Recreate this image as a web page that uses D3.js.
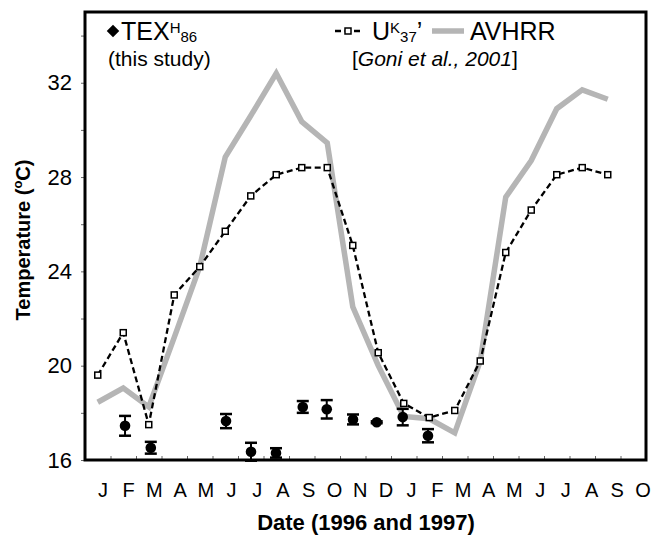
<!DOCTYPE html>
<html>
<head>
<meta charset="utf-8">
<script src="https://cdn.jsdelivr.net/npm/d3@7"></script>
<style>
  body { margin: 0; background: #fff; }
  svg { display: block; font-family: Arial, "Liberation Sans", sans-serif; }
</style>
</head>
<body>
<svg id="chart" width="653" height="535"></svg>
<script>
// month labels, Jan 1996 - Oct 1997
const monthLabels = ['J', 'F', 'M', 'A', 'M', 'J', 'J', 'A', 'S', 'O', 'N', 'D',
  'J', 'F', 'M', 'A', 'M', 'J', 'J', 'A', 'S', 'O'];

// U37K' monthly values (Jan 1996 - Sep 1997)
const uk37Temp = [19.6, 21.4, 17.5, 23.0, 24.2, 25.7, 27.2, 28.1, 28.4, 28.4, 25.1, 20.55,
  18.4, 17.8, 18.1, 20.2, 24.8, 26.6, 28.1, 28.4, 28.1];

// AVHRR monthly values
const avhrrTemp = [18.45, 19.05, 18.25, 21.2, 24.2, 28.85, 30.6, 32.4, 30.35, 29.45, 22.5, 20.0,
  17.85, 17.75, 17.15, 20.2, 27.15, 28.7, 30.9, 31.7, 31.3];

// TEX86H samples: position in months from Jan 1996, temperature, error
const texMonth = [1.57, 2.58, 5.53, 6.51, 7.49, 8.54, 9.48, 10.51, 11.44, 12.46, 13.45];
const texTemp = [17.45, 16.52, 17.65, 16.35, 16.3, 18.25, 18.15, 17.72, 17.6, 17.82, 17.03];
const texErr = [0.42, 0.25, 0.3, 0.38, 0.2, 0.25, 0.39, 0.21, 0.04, 0.35, 0.28];

const yTicks = [16, 18, 20, 22, 24, 26, 28, 30, 32, 34];

const svg = d3.select('#chart');
const plotLeft = 85, plotRight = 646, plotTop = 12, plotBottom = 460;

const x = d3.scaleLinear().domain([0, 22]).range([plotLeft, plotRight]);
const y = d3.scaleLinear().domain([16, 35]).range([plotBottom, plotTop]);
// month letters are spaced a bit wider than the ticks in the original
const labelX = d3.scaleLinear().domain([0, 21]).range([103, 643]);

// y axis ticks and labels
const yAxis = svg.append('g')
  .attr('transform', `translate(${plotLeft},0)`)
  .call(d3.axisLeft(y).tickValues(yTicks).tickSize(4).tickPadding(9)
    .tickFormat(d => d % 4 === 0 ? d : ''));
yAxis.select('.domain').remove();
yAxis.selectAll('line').attr('stroke', '#666');
yAxis.selectAll('text')
  .attr('font-size', 22)
  .attr('font-family', 'Arial, "Liberation Sans", sans-serif')
  .attr('fill', '#000');

// x axis: inner ticks at month boundaries
const xAxis = svg.append('g')
  .attr('transform', `translate(0,${plotBottom})`)
  .call(d3.axisBottom(x).tickValues(d3.range(1, 22)).tickSize(-4).tickFormat(''));
xAxis.select('.domain').remove();
xAxis.selectAll('line').attr('stroke', '#666');

svg.append('g')
  .selectAll('text')
  .data(monthLabels)
  .join('text')
  .attr('x', (d, i) => labelX(i))
  .attr('y', 497)
  .attr('text-anchor', 'middle')
  .attr('font-size', 20)
  .text(d => d);

// AVHRR grey line
const monthLine = d3.line()
  .x((d, i) => x(i + 0.5))
  .y(d => y(d));
svg.append('path')
  .datum(avhrrTemp)
  .attr('d', monthLine)
  .attr('fill', 'none')
  .attr('stroke', '#b5b5b5')
  .attr('stroke-width', 5.5)
  .attr('stroke-linejoin', 'miter');

// U37K' dashed line + squares
svg.append('path')
  .datum(uk37Temp)
  .attr('d', monthLine)
  .attr('fill', 'none')
  .attr('stroke', '#000')
  .attr('stroke-width', 2.3)
  .attr('stroke-dasharray', '6,3.5');

svg.append('g')
  .selectAll('rect')
  .data(uk37Temp)
  .join('rect')
  .attr('x', (d, i) => x(i + 0.5) - 3)
  .attr('y', d => y(d) - 3)
  .attr('width', 6)
  .attr('height', 6)
  .attr('fill', '#fff')
  .attr('stroke', '#000')
  .attr('stroke-width', 1.5);

// TEX86H points with error bars
const texData = texMonth.map((m, i) => ({ m, t: texTemp[i], e: texErr[i] }));
const texG = svg.append('g')
  .selectAll('g')
  .data(texData)
  .join('g');

texG.append('line')
  .attr('x1', d => x(d.m)).attr('x2', d => x(d.m))
  .attr('y1', d => y(d.t + d.e)).attr('y2', d => y(d.t - d.e))
  .attr('stroke', '#000').attr('stroke-width', 2);
texG.append('line')
  .attr('x1', d => x(d.m) - 6).attr('x2', d => x(d.m) + 6)
  .attr('y1', d => y(d.t + d.e)).attr('y2', d => y(d.t + d.e))
  .attr('stroke', '#000').attr('stroke-width', 2.5);
texG.append('line')
  .attr('x1', d => x(d.m) - 6).attr('x2', d => x(d.m) + 6)
  .attr('y1', d => y(d.t - d.e)).attr('y2', d => y(d.t - d.e))
  .attr('stroke', '#000').attr('stroke-width', 2.5);
texG.append('circle')
  .attr('cx', d => x(d.m))
  .attr('cy', d => y(d.t))
  .attr('r', 5.3)
  .attr('fill', '#000');

// frame
svg.append('rect')
  .attr('x', plotLeft).attr('y', plotTop)
  .attr('width', plotRight - plotLeft).attr('height', plotBottom - plotTop)
  .attr('fill', 'none')
  .attr('stroke', '#000')
  .attr('stroke-width', 3);

// axis titles
svg.append('text')
  .attr('transform', `translate(30,240) rotate(-90)`)
  .attr('text-anchor', 'middle')
  .attr('font-size', 20)
  .attr('font-weight', 'bold')
  .call(t => {
    t.append('tspan').text('Temperature (');
    t.append('tspan').attr('font-size', 13).attr('dy', -8).text('o');
    t.append('tspan').attr('dy', 8).text('C)');
  });

svg.append('text')
  .attr('x', 366)
  .attr('y', 530)
  .attr('text-anchor', 'middle')
  .attr('font-size', 22)
  .attr('font-weight', 'bold')
  .text('Date (1996 and 1997)');

// legend
const legend = svg.append('g');
legend.append('path')
  .attr('d', d3.symbol(d3.symbolDiamond2, 100)())
  .attr('transform', 'translate(113,31)')
  .attr('fill', '#000');
legend.append('text')
  .attr('x', 121).attr('y', 40).attr('font-size', 25)
  .call(t => {
    t.append('tspan').text('TEX');
    t.append('tspan').attr('font-size', 15).attr('dy', -7).text('H');
    t.append('tspan').attr('font-size', 15).attr('dy', 9).text('86');
  });
legend.append('text')
  .attr('x', 108).attr('y', 66).attr('font-size', 21)
  .text('(this study)');

legend.append('line')
  .attr('x1', 335).attr('x2', 362).attr('y1', 31).attr('y2', 31)
  .attr('stroke', '#000').attr('stroke-width', 2.3).attr('stroke-dasharray', '6,3.5');
legend.append('rect')
  .attr('x', 345).attr('y', 28).attr('width', 6).attr('height', 6)
  .attr('fill', '#fff').attr('stroke', '#000').attr('stroke-width', 1.5);
legend.append('text')
  .attr('x', 372).attr('y', 40).attr('font-size', 25)
  .call(t => {
    t.append('tspan').text('U');
    t.append('tspan').attr('font-size', 15).attr('dy', -7).text('K');
    t.append('tspan').attr('font-size', 15).attr('dy', 9).text('37');
    t.append('tspan').attr('dy', -2).text('\u2019');
  });
legend.append('line')
  .attr('x1', 432).attr('x2', 464).attr('y1', 31).attr('y2', 31)
  .attr('stroke', '#b5b5b5').attr('stroke-width', 5.5);
legend.append('text')
  .attr('x', 470).attr('y', 40).attr('font-size', 25)
  .text('AVHRR');
legend.append('text')
  .attr('x', 352).attr('y', 66).attr('font-size', 21)
  .call(t => {
    t.append('tspan').text('[');
    t.append('tspan').attr('font-style', 'italic').text('Goni et al., 2001');
    t.append('tspan').text(']');
  });
</script>
</body>
</html>
